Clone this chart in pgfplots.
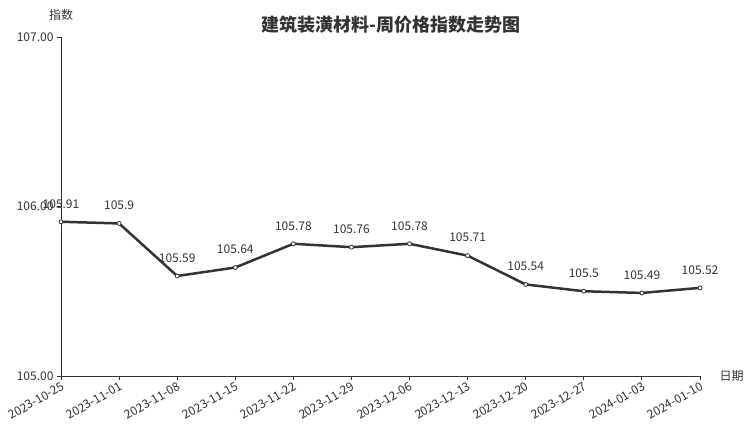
\documentclass[border=0pt]{standalone}
\usepackage{fontspec}
\setmainfont{Noto Sans CJK SC}
\usepackage{pgfplots}
\pgfplotsset{compat=1.18}
\definecolor{ink}{HTML}{333333}
\begin{document}
\begin{tikzpicture}[x=1pt,y=1pt]
\useasboundingbox (0,0) rectangle (752,427);
\begin{axis}[
  at={(61pt,51pt)}, anchor=south west,
  scale only axis, width=639pt, height=339pt,
  xmin=0, xmax=11, ymin=105, ymax=107,
  axis x line*=bottom, axis y line*=left,
  axis line style={ink, line width=0.9pt, -},
  xtick={0,...,11},
  xticklabels={2023-10-25,2023-11-01,2023-11-08,2023-11-15,2023-11-22,2023-11-29,2023-12-06,2023-12-13,2023-12-20,2023-12-27,2024-01-03,2024-01-10},
  ytick={105,106,107},
  yticklabel style={/pgf/number format/.cd, fixed, fixed zerofill, precision=2},
  /pgf/number format/assume math mode=true,
  tick style={ink, line width=0.9pt},
  tick align=outside, major tick length=4pt,
  ticklabel style={font=\fontsize{12}{14}\selectfont, text=ink},
  xticklabel style={rotate=30, anchor=north east, inner sep=1pt},
  clip=false,
  nodes near coords, point meta=explicit symbolic,
  every node near coord/.append style={font=\fontsize{12}{14}\selectfont, text=ink, anchor=center, yshift=18pt},
]
\addplot[ink, line width=2.5pt, mark=*, mark size=2pt,
  mark options={fill=white, draw=ink, line width=0.8pt}] coordinates {
  (0,105.91) [105.91]
  (1,105.90) [105.9]
  (2,105.59) [105.59]
  (3,105.64) [105.64]
  (4,105.78) [105.78]
  (5,105.76) [105.76]
  (6,105.78) [105.78]
  (7,105.71) [105.71]
  (8,105.54) [105.54]
  (9,105.50) [105.5]
  (10,105.49) [105.49]
  (11,105.52) [105.52]
};
\node[font=\fontsize{12}{14}\selectfont, text=ink] at (rel axis cs:0,1) [yshift=22pt] {指数};
\node[font=\fontsize{12}{14}\selectfont, text=ink, anchor=west] at (rel axis cs:1,0) [xshift=16pt] {日期};
\end{axis}
\node[font=\fontsize{18}{20}\selectfont\bfseries, text=ink] at (391,402) {建筑装潢材料-周价格指数走势图};
\end{tikzpicture}
\end{document}
